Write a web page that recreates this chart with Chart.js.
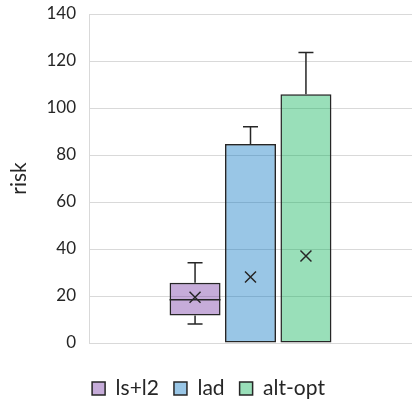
<!DOCTYPE html>
<html>
<head>
<meta charset="utf-8">
<script src="https://cdn.jsdelivr.net/npm/chart.js@4/dist/chart.umd.min.js"></script>
<style>
  html, body { margin: 0; padding: 0; background: #fff; }
  #wrap { width: 412px; height: 404px; }
</style>
</head>
<body>
<div id="wrap"><canvas id="chart" width="412" height="404"></canvas></div>
<script>
// values
const seriesNames = ['ls+l2', 'lad', 'alt-opt'];
const whiskerLow = [8.1, 0, 0];
const q1 = [11.7, 0, 0];
const median = [18.4, 0, 0];
const q3 = [25.6, 84.7, 105.8];
const whiskerHigh = [34.2, 92.0, 123.6];
const means = [19.5, 28.1, 37.0];
const yTicks = [0, 20, 40, 60, 80, 100, 120, 140];

const fills = ['rgba(112,48,160,0.4)', 'rgba(0,112,192,0.4)', 'rgba(0,176,80,0.4)'];
const ink = '#262626';
const font = "Lato, 'Open Sans', sans-serif";

// whiskers, median and mean marks, placed from the bars and the y scale
const boxExtras = {
  id: 'boxExtras',
  afterDatasetsDraw(chart) {
    const ctx = chart.ctx;
    const y = chart.scales.y;
    ctx.save();
    ctx.strokeStyle = ink;
    ctx.lineWidth = 1.5;
    seriesNames.forEach((name, i) => {
      const bar = chart.getDatasetMeta(i).data[0];
      if (!bar) return;
      const x = bar.x;
      const half = bar.width / 2;
      const cap = 7.5;
      ctx.beginPath();
      if (whiskerHigh[i] > q3[i]) {
        ctx.moveTo(x, y.getPixelForValue(q3[i]));
        ctx.lineTo(x, y.getPixelForValue(whiskerHigh[i]));
        ctx.moveTo(x - cap, y.getPixelForValue(whiskerHigh[i]));
        ctx.lineTo(x + cap, y.getPixelForValue(whiskerHigh[i]));
      }
      if (whiskerLow[i] < q1[i]) {
        ctx.moveTo(x, y.getPixelForValue(q1[i]));
        ctx.lineTo(x, y.getPixelForValue(whiskerLow[i]));
        ctx.moveTo(x - cap, y.getPixelForValue(whiskerLow[i]));
        ctx.lineTo(x + cap, y.getPixelForValue(whiskerLow[i]));
      }
      if (median[i] > q1[i]) {
        ctx.moveTo(x - half, y.getPixelForValue(median[i]));
        ctx.lineTo(x + half, y.getPixelForValue(median[i]));
      }
      ctx.stroke();
      const my = y.getPixelForValue(means[i]);
      const m = 5.5;
      ctx.beginPath();
      ctx.moveTo(x - m, my - m);
      ctx.lineTo(x + m, my + m);
      ctx.moveTo(x + m, my - m);
      ctx.lineTo(x - m, my + m);
      ctx.stroke();
    });
    ctx.restore();
  }
};

new Chart(document.getElementById('chart'), {
  type: 'bar',
  data: {
    labels: [''],
    datasets: seriesNames.map((name, i) => ({
      label: name,
      data: [[q1[i], q3[i]]],
      backgroundColor: fills[i],
      borderColor: ink,
      borderWidth: 1.5,
      borderSkipped: false,
      categoryPercentage: 0.515,
      barPercentage: 0.92
    }))
  },
  options: {
    responsive: false,
    animation: false,
    layout: { padding: { top: 14, right: -5, bottom: -5, left: 0 } },
    plugins: {
      legend: {
        position: 'bottom',
        labels: {
          font: { family: font, size: 21 },
          color: '#262626',
          boxWidth: 13,
          boxHeight: 13,
          padding: 15,
          generateLabels(chart) {
            return seriesNames.map((name, i) => ({
              text: name,
              fillStyle: fills[i],
              strokeStyle: ink,
              lineWidth: 1.5,
              datasetIndex: i,
              fontColor: '#262626'
            }));
          }
        }
      },
      tooltip: { enabled: false }
    },
    scales: {
      x: {
        grid: { display: false },
        border: { display: false },
        ticks: { display: false },
        afterFit(scale) { scale.height = 20; }
      },
      y: {
        min: 0,
        max: 140,
        afterBuildTicks(scale) { scale.ticks = yTicks.map(v => ({ value: v })); },
        afterFit(scale) { scale.width = 89; },
        grid: { color: '#d9d9d9', lineWidth: 1, drawTicks: true, tickLength: 13, tickColor: 'rgba(0,0,0,0)' },
        border: { color: '#d9d9d9' },
        ticks: { font: { family: font, size: 17 }, color: '#262626', padding: 0 },
        title: {
          display: true,
          text: 'risk',
          font: { family: font, size: 21 },
          color: '#262626',
          padding: { top: 7, bottom: 0 }
        }
      }
    }
  },
  plugins: [boxExtras]
});
</script>
</body>
</html>
